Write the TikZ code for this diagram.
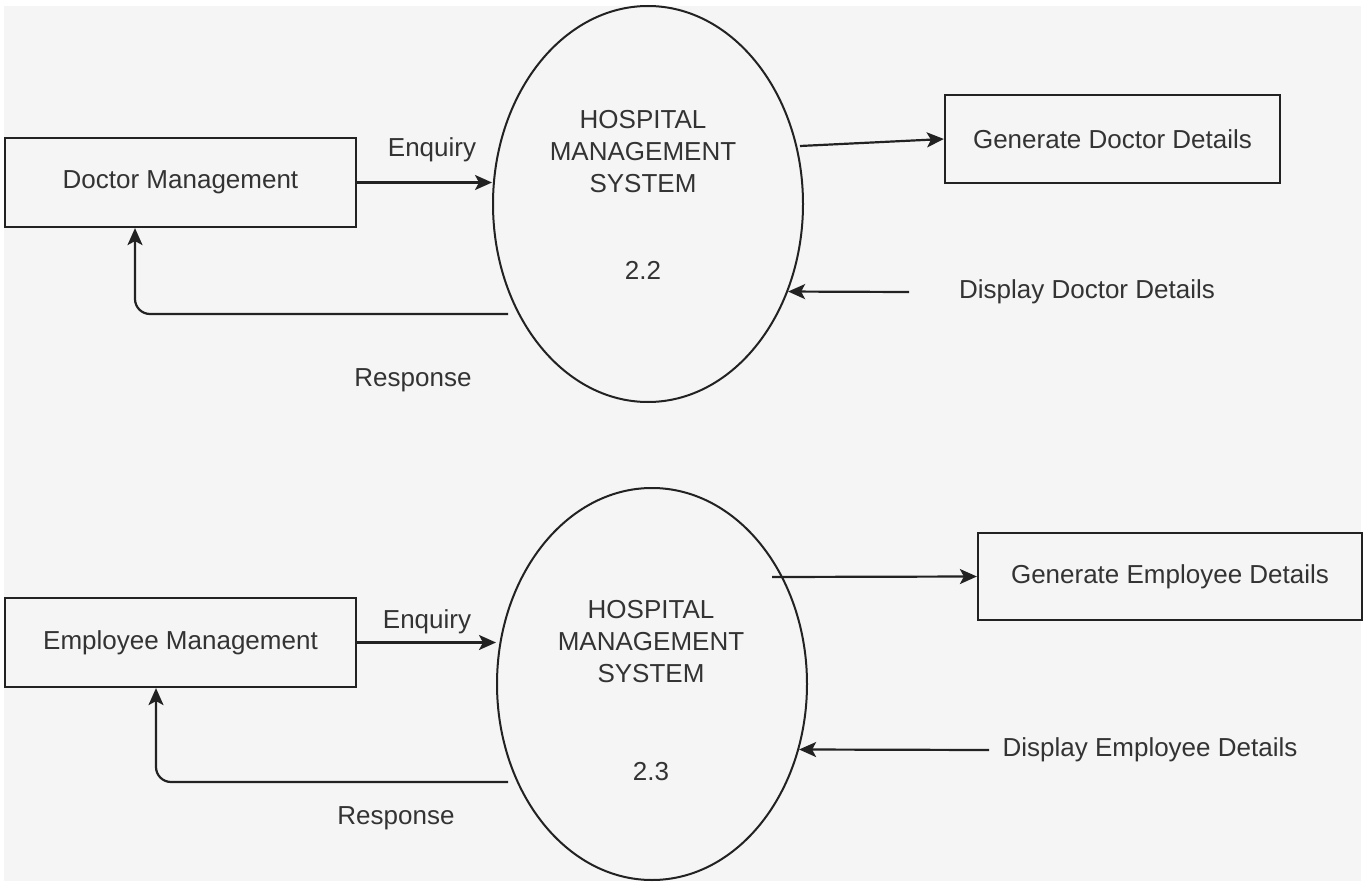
\documentclass[tikz,border=0pt]{standalone}
\usepackage{fontspec}
\setmainfont{Liberation Sans}
\usetikzlibrary{positioning,shapes.geometric,arrows.meta}
\definecolor{bggray}{HTML}{F5F5F5}
\definecolor{txtgray}{HTML}{333333}
\definecolor{linegray}{HTML}{222222}

\begin{document}
\begin{tikzpicture}[x=1pt,y=-1pt,
  box/.style={draw=linegray,line width=2.2pt,fill=bggray,text=txtgray,inner sep=0pt,font=\fontsize{26}{32}\selectfont},
  proc/.style={ellipse,draw=linegray,line width=2pt,inner sep=0pt},
  lbl/.style={text=txtgray,inner sep=0pt,align=center,font=\fontsize{26}{32}\selectfont},
  flow/.style={draw=linegray,line width=2.2pt,-{Stealth[length=17pt,width=15pt,inset=4pt]}}]
  \useasboundingbox[fill=white] (0,0) rectangle (1369,883);
  \fill[bggray] (4,6) rectangle (1361,881);

  \node[proc,minimum width=310pt,minimum height=396pt](sys1) at (648,204){};
  \node[lbl](sys1name) at (643,152){HOSPITAL\\MANAGEMENT\\SYSTEM};
  \node[lbl](sys1num) at (643,270){2.2};
  \node[box,minimum width=351pt,minimum height=89pt](doc) at (180.5,182.5){Doctor Management};
  \node[box,minimum width=335pt,minimum height=88pt](gen1) at (1112.5,139){Generate Doctor Details};
  \node[lbl](enq1) at (432,150){Enquiry};
  \node[lbl](resp1) at (413,380){Response};
  \node[lbl](disp1) at (1087,292){Display Doctor Details};
  \coordinate(r1) at (508,314);
  \coordinate(g1) at (800,146);
  \coordinate(d1) at (909,292);
  \draw[flow](doc.east) -- (doc.east -| sys1.west);
  \draw[flow,rounded corners=15pt](r1) -| ([xshift=-45.5pt]doc.south);
  \draw[flow](g1) -- (gen1.west);
  \draw[flow](d1) -- (sys1.-32.3);

  \node[proc,minimum width=310pt,minimum height=392pt](sys2) at (652,684){};
  \node[lbl](sys2name) at (651,642){HOSPITAL\\MANAGEMENT\\SYSTEM};
  \node[lbl](sys2num) at (651,772){2.3};
  \node[box,minimum width=351pt,minimum height=89pt](emp) at (180.5,642.5){Employee Management};
  \node[box,minimum width=384pt,minimum height=87pt](gen2) at (1170,576.5){Generate Employee Details};
  \node[lbl](enq2) at (427,622){Enquiry};
  \node[lbl](resp2) at (396,818){Response};
  \node[lbl](disp2) at (1150,750){Display Employee Details};
  \coordinate(r2) at (508,782);
  \coordinate(g2) at (772,577);
  \coordinate(d2) at (989,750);
  \draw[flow](emp.east) -- (emp.east -| sys2.west);
  \draw[flow,rounded corners=15pt](r2) -| ([xshift=-24.5pt]emp.south);
  \draw[flow](g2) -- (gen2.west);
  \draw[flow](d2) -- (sys2.-24.3);
\end{tikzpicture}
\end{document}
